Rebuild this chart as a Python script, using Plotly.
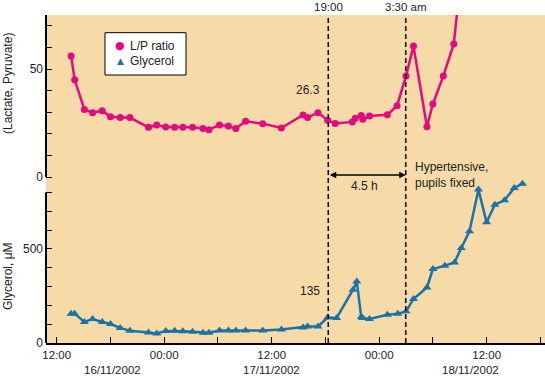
import plotly.graph_objects as go

# ---------------- data ----------------
lp_time = ["2002-11-16 13:36", "2002-11-16 14:00", "2002-11-16 15:05", "2002-11-16 16:00",
           "2002-11-16 17:05", "2002-11-16 18:00", "2002-11-16 19:05", "2002-11-16 20:10",
           "2002-11-16 22:15", "2002-11-16 23:10", "2002-11-17 00:10", "2002-11-17 01:10",
           "2002-11-17 02:05", "2002-11-17 03:10", "2002-11-17 04:20", "2002-11-17 05:00",
           "2002-11-17 06:10", "2002-11-17 07:10", "2002-11-17 08:00", "2002-11-17 09:05",
           "2002-11-17 11:00", "2002-11-17 13:05", "2002-11-17 15:30", "2002-11-17 16:00",
           "2002-11-17 17:10", "2002-11-17 18:15", "2002-11-17 19:05", "2002-11-17 21:00",
           "2002-11-17 21:20", "2002-11-17 22:00", "2002-11-17 22:10", "2002-11-17 22:55",
           "2002-11-18 00:55", "2002-11-18 02:00", "2002-11-18 03:00", "2002-11-18 03:50",
           "2002-11-18 05:20", "2002-11-18 06:00", "2002-11-18 07:10", "2002-11-18 08:20",
           "2002-11-18 09:00"]
lp_value = [56.0, 45.0, 31.3, 29.8, 30.7, 27.9, 27.5, 27.5,
            23.0, 24.1, 23.1, 23.0, 23.0, 23.0, 22.5, 21.9,
            24.1, 23.6, 22.4, 25.8, 24.7, 22.7, 28.7, 27.5,
            29.8, 26.3, 24.8, 25.5, 27.2, 28.5, 26.7, 28.2,
            28.8, 33.0, 46.8, 60.6, 23.3, 33.8, 46.8, 61.6,
            88.0]

gly_time = ["2002-11-16 13:36", "2002-11-16 14:00", "2002-11-16 15:05", "2002-11-16 16:00",
            "2002-11-16 17:05", "2002-11-16 18:00", "2002-11-16 19:05", "2002-11-16 20:10",
            "2002-11-16 22:15", "2002-11-16 23:10", "2002-11-17 00:10", "2002-11-17 01:10",
            "2002-11-17 02:05", "2002-11-17 03:10", "2002-11-17 04:20", "2002-11-17 05:00",
            "2002-11-17 06:10", "2002-11-17 07:10", "2002-11-17 08:00", "2002-11-17 09:05",
            "2002-11-17 11:00", "2002-11-17 13:05", "2002-11-17 15:30", "2002-11-17 16:00",
            "2002-11-17 17:10", "2002-11-17 18:15", "2002-11-17 19:15", "2002-11-17 21:05",
            "2002-11-17 21:30", "2002-11-17 22:00", "2002-11-17 22:10", "2002-11-17 22:55",
            "2002-11-18 00:55", "2002-11-18 02:05", "2002-11-18 03:00", "2002-11-18 03:50",
            "2002-11-18 05:20", "2002-11-18 06:00", "2002-11-18 07:20", "2002-11-18 08:25",
            "2002-11-18 09:10", "2002-11-18 10:05", "2002-11-18 11:05", "2002-11-18 12:00",
            "2002-11-18 12:55", "2002-11-18 14:00", "2002-11-18 15:05", "2002-11-18 16:00"]
gly_value = [156, 156, 112, 127, 112, 101, 80, 65,
             56, 51, 64, 65, 62, 60, 55, 55,
             66, 66, 66, 66, 66, 72, 83, 88,
             88, 135, 133, 283, 327, 138, 133, 128,
             150, 156, 168, 234, 295, 393, 411, 428,
             505, 593, 815, 641, 735, 758, 824, 846]

x_tick_vals = ["2002-11-16 12:00", "2002-11-16 18:00", "2002-11-17 00:00", "2002-11-17 06:00",
               "2002-11-17 12:00", "2002-11-17 18:00", "2002-11-18 00:00", "2002-11-18 06:00",
               "2002-11-18 12:00", "2002-11-18 18:00"]
x_tick_text = ["12:00", "", "00:00", "", "12:00", "", "00:00", "", "12:00", ""]
date_labels = ["16/11/2002", "17/11/2002", "18/11/2002"]

lp_tick_vals = [0, 10, 20, 30, 40, 50, 60, 70]
lp_tick_text = ["0", "", "", "", "", "50", "", ""]
gly_tick_vals = [0, 100, 200, 300, 400, 500, 600, 700, 800]
gly_tick_text = ["0", "", "", "", "", "500", "", "", ""]

event_times = ["2002-11-17 18:19", "2002-11-18 02:58"]
event_labels = ["19:00", "3:30 am"]

# ---------------- style ----------------
PINK = "#E5097F"
BLUE = "#1A72A6"
TAN = "#F6DBA9"
FONT = "Liberation Sans, Arial, sans-serif"
W, H = 545, 377
ML, MT, MB = 46, 15, 34
PW, PH = W - ML, H - MT - MB


def px_x(p):
    return (p - ML) / PW


def px_y(p):
    return (H - MB - p) / PH


fig = go.Figure()
fig.add_trace(go.Scatter(x=lp_time, y=lp_value, yaxis="y2", mode="lines+markers",
                         name="L/P ratio", line=dict(color=PINK, width=2.5),
                         marker=dict(symbol="circle", size=7, color=PINK)))
fig.add_trace(go.Scatter(x=gly_time, y=gly_value, yaxis="y", mode="lines+markers",
                         name="Glycerol", line=dict(color=BLUE, width=2.5),
                         marker=dict(symbol="triangle-up", size=8, color=BLUE)))

fig.update_layout(
    width=W, height=H,
    margin=dict(l=ML, r=0, t=MT, b=MB, pad=0),
    paper_bgcolor="white", plot_bgcolor=TAN,
    showlegend=False,
    font=dict(family=FONT, size=12, color="#222"),
    xaxis=dict(type="date", range=["2002-11-16 10:48", "2002-11-18 18:31"],
               tickmode="array", tickvals=x_tick_vals, ticktext=x_tick_text,
               ticks="inside", ticklen=6, tickwidth=1.2, tickcolor="black",
               showline=True, linecolor="black", linewidth=2,
               showgrid=False, zeroline=False, tickfont=dict(size=11.5)),
    yaxis=dict(range=[0, 1742.4], tickmode="array", tickvals=gly_tick_vals,
               ticktext=gly_tick_text, ticks="inside", ticklen=6, tickwidth=1.2,
               tickcolor="black", showline=False, showgrid=False, zeroline=False,
               ticklabelstandoff=2),
    yaxis2=dict(range=[-76.85, 75], overlaying="y", side="left", anchor="x",
                tickmode="array", tickvals=lp_tick_vals, ticktext=lp_tick_text,
                ticks="inside", ticklen=6, tickwidth=1.2, tickcolor="black",
                showline=False, showgrid=False, zeroline=False,
                ticklabelstandoff=2),
)

# broken y axis lines
fig.add_shape(type="line", xref="paper", yref="y2", x0=0, x1=0, y0=0, y1=75,
              line=dict(color="black", width=2))
fig.add_shape(type="line", xref="paper", yref="y", x0=0, x1=0, y0=0, y1=800,
              line=dict(color="black", width=2))

# dashed event lines + labels
for t, lab in zip(event_times, event_labels):
    fig.add_shape(type="line", xref="x", yref="paper", x0=t, x1=t, y0=0, y1=1,
                  line=dict(color="black", width=1.5, dash="5px,3px"))
    fig.add_annotation(x=t, y=px_y(0), xref="x", yref="paper", text=lab,
                       showarrow=False, xanchor="center", yanchor="top",
                       borderpad=0, font=dict(size=11.5))

# double-headed arrow between events
fig.add_annotation(x=event_times[1], y=px_y(175), xref="x", yref="paper",
                   ax=event_times[0], ay=0, axref="x", ayref="pixel",
                   text="", showarrow=True, arrowhead=2, arrowsize=1,
                   arrowwidth=1.3, arrowside="end+start", arrowcolor="black",
                   standoff=0, startstandoff=0)
fig.add_annotation(x="2002-11-17 22:25", y=px_y(186), xref="x", yref="paper",
                   text="4.5 h", showarrow=False, xanchor="center", yanchor="middle")
fig.add_annotation(x="2002-11-18 03:46", y=px_y(175), xref="x", yref="paper",
                   text="Hypertensive,<br>pupils fixed", showarrow=False,
                   xanchor="left", yanchor="middle", align="left")
fig.add_annotation(x="2002-11-17 16:03", y=40.3, xref="x", yref="y2", text="26.3",
                   showarrow=False, xanchor="center", yanchor="middle")
fig.add_annotation(x="2002-11-17 16:17", y=274, xref="x", yref="y", text="135",
                   showarrow=False, xanchor="center", yanchor="middle")

# date labels under the time ticks
for xp, d in zip([112, 271, 470], date_labels):
    fig.add_annotation(x=px_x(xp), y=px_y(H), xref="paper", yref="paper", text=d,
                       showarrow=False, xanchor="center", yanchor="bottom",
                       borderpad=0, font=dict(size=11.5))

# y-axis titles
fig.add_annotation(x=px_x(8), y=px_y(84), xref="paper", yref="paper",
                   text="(Lactate, Pyruvate)", textangle=-90, showarrow=False,
                   xanchor="center", yanchor="middle")
fig.add_annotation(x=px_x(8), y=px_y(276), xref="paper", yref="paper",
                   text="Glycerol, μM", textangle=-90, showarrow=False,
                   xanchor="center", yanchor="middle")

# legend box
fig.add_shape(type="rect", xref="paper", yref="paper",
              x0=px_x(105), x1=px_x(186), y0=px_y(75), y1=px_y(32.7),
              fillcolor="white", line=dict(color="black", width=1))
leg_names = ["L/P ratio", "Glycerol"]
leg_glyphs = ["●", "▲"]
leg_colors = [PINK, BLUE]
leg_sizes = [11, 9]
leg_y = [px_y(46), px_y(61.5)]
for n, g, c, s, yy in zip(leg_names, leg_glyphs, leg_colors, leg_sizes, leg_y):
    fig.add_annotation(x=px_x(120), y=yy, xref="paper", yref="paper", text=g,
                       showarrow=False, xanchor="center", yanchor="middle",
                       font=dict(size=s, color=c, family="DejaVu Sans"))
    fig.add_annotation(x=px_x(128), y=yy, xref="paper", yref="paper", text=n,
                       showarrow=False, xanchor="left", yanchor="middle",
                       font=dict(size=12))

fig.write_html("out.html",
               config={"displayModeBar": False},
               post_script="document.body.style.margin='0px';"
                           "document.body.style.overflow='hidden';")
